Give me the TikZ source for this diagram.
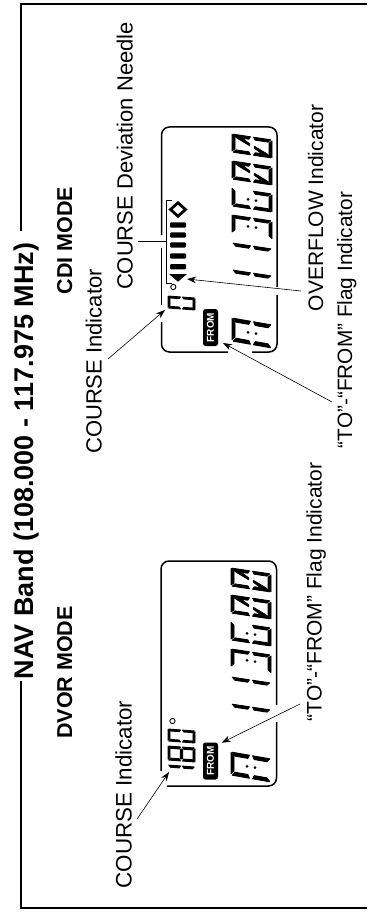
\documentclass[tikz,border=0pt]{standalone}
\usepackage{fontspec}
\setmainfont{Liberation Sans}
\usetikzlibrary{arrows.meta}
\newcommand\SegA{\filldraw (.06,1)--(.98,1)--(.85,.925)--(.2,.925)--cycle;}
\newcommand\SegB{\filldraw (1,.97)--(1,.54)--(.85,.58)--(.85,.9)--cycle;}
\newcommand\SegC{\filldraw (1,.46)--(1,.03)--(.85,.1)--(.85,.42)--cycle;}
\newcommand\SegD{\filldraw (.02,0)--(.94,0)--(.8,.075)--(.15,.075)--cycle;}
\newcommand\SegE{\filldraw (0,.03)--(0,.46)--(.15,.42)--(.15,.1)--cycle;}
\newcommand\SegF{\filldraw (0,.54)--(0,.97)--(.15,.9)--(.15,.58)--cycle;}
\newcommand\SegG{\filldraw (.15,.54)--(.85,.54)--(.85,.46)--(.15,.46)--cycle;}
\newcommand\SegDots{\fill (.5,.6) circle[radius=1.5pt] (.5,.4) circle[radius=1.5pt];}
\newcommand\SegSlash{\filldraw (.82,.88)--(.82,.72)--(.6,.56)--(.5,.56)--cycle;\filldraw (.18,.12)--(.18,.28)--(.4,.44)--(.5,.44)--cycle;}
\newcommand\Dig[6]{\begin{scope}[shift={(#1,#2)},x={(0pt,#3pt)},y={(-#4pt,#5pt)},line width=.9pt,line join=round]#6\end{scope}}
\newcommand\FreqDigits{%
 \Dig{272}{348}{23}{40}{7}{\SegA\SegB\SegC\SegE\SegF\SegDots}
 \Dig{272}{294}{18}{40}{6}{\SegB\SegC}
 \Dig{272}{267}{18}{40}{6}{\SegB\SegC}
 \Dig{272}{239}{18}{40}{6}{\SegA\SegB\SegC\SegD\SegDots}
 \Dig{272}{212}{18}{40}{6}{\SegA\SegC\SegD\SegE\SegF\SegDots}
 \Dig{272}{185}{18}{40}{6}{\SegA\SegB\SegC\SegD\SegE\SegF\SegSlash}
 \Dig{272}{158}{18}{40}{6}{\SegA\SegB\SegC\SegD\SegE\SegF\SegSlash}
}
\tikzset{
 lbl/.style={rotate=90,anchor=base,inner sep=0pt,font=\fontsize{21.5}{24}\selectfont},
 hdr/.style={rotate=90,anchor=base,inner sep=0pt,font=\fontsize{21.5}{24}\selectfont\bfseries},
 ttl/.style={rotate=90,anchor=base,inner sep=0pt,font=\fontsize{27}{30}\selectfont\bfseries},
 badge/.style={rotate=90,fill=black,text=white,rounded corners=2.5pt,minimum width=37pt,minimum height=15pt,inner sep=0pt,font=\fontsize{10}{11}\selectfont\bfseries},
 frameline/.style={line width=1.8pt},
 lcdline/.style={line width=1.5pt,rounded corners=8pt},
 ptr/.style={line width=.6pt,-{Stealth[length=9pt,width=6.5pt]}},
 leader/.style={line width=.6pt},
}
\begin{document}
\begin{tikzpicture}[x=1pt,y=-1pt]
\useasboundingbox (0,0) rectangle (367,912);
% frame
\node[ttl] (title) at (33,461) {NAV Band (108.000 - 117.975 MHz)};
\draw[frameline] (21,231)--(21,4.2)--(367,4.2);
\draw[frameline] (21,681)--(21,908.3)--(367,908.3);
% headers
\node[hdr] (cdi) at (72,240.5) {CDI MODE};
\node[hdr] (dvor) at (72,672.5) {DVOR MODE};
% labels
\node[lbl,font=\fontsize{22}{24}\selectfont] (needle) at (132.5,156) {COURSE Deviation Needle};
\node[lbl,font=\fontsize{22}{24}\selectfont] (ci1) at (101.5,361.5) {COURSE Indicator};
\node[lbl,font=\fontsize{22.4}{24}\selectfont] (ci2) at (131.5,794.5) {COURSE Indicator};
\node[lbl,font=\fontsize{21}{24}\selectfont] (ovf) at (323,208) {OVERFLOW Indicator};
\node[lbl,font=\fontsize{20.8}{24}\selectfont] (tf1) at (352,320) {“TO”-“FROM” Flag Indicator};
\node[lbl,font=\fontsize{21}{24}\selectfont] (tf2) at (321.5,592) {“TO”-“FROM” Flag Indicator};
% CDI LCD outline
\draw[lcdline] (161.5,235)--(161.5,127)--(277,127)--(277,287);
\draw[lcdline] (161.5,248)--(161.5,305);
\draw[lcdline] (161.5,322)--(161.5,352)--(228,352);
\draw[lcdline] (252,352)--(277,352)--(277,295);
% DVOR LCD outline
\draw[lcdline] (161,771)--(161,561)--(276.5,561)--(276.5,705);
\draw[lcdline] (276.5,722)--(276.5,786)--(167,786);
% frequency digits
\FreqDigits
\begin{scope}[shift={(-1,434)}]\FreqDigits\end{scope}
% course digits
\Dig{195}{310}{12}{27}{2}{\SegA\SegB\SegC\SegD\SegE\SegF}
\Dig{195}{743}{12}{27}{2}{\SegA\SegB\SegC\SegD\SegE\SegF}
\Dig{195}{762}{14}{27}{2}{\SegA\SegB\SegC\SegD\SegE\SegF\SegG}
\Dig{195}{781}{14}{27}{2}{\SegB\SegC}
% degree signs
\draw[line width=.9pt] (173.3,287) circle[radius=2.6];
\draw[line width=.9pt] (172.5,721) circle[radius=2.6];
% FROM badges
\node[badge] (from1) at (210.5,327.5) {FROM};
\node[badge] (from2) at (210.5,761) {FROM};
% deviation needle
\draw[line width=2.8pt,miter limit=4] (178,202.8)--(185.5,209.5)--(178,216.2)--(170.5,209.5)--cycle;
\foreach \yy in {225,235,245,256,266.7}{\fill[rounded corners=1pt] (170,\yy-2.7) rectangle (186,\yy+2.7);}
\fill (169,274)--(187,274)--(178,281.7)--cycle;
\draw[leader] (172,200)--(166,200)--(166,283)--(172,283);
\coordinate (brk) at (166,241);
\coordinate (ovft) at (187,279);
\coordinate (ovfs) at (301,291);
\coordinate (ci1s) at (108,359);
\coordinate (ci1t) at (165,310);
\coordinate (tf1s) at (332,402);
\coordinate (tf1t) at (223,343);
\coordinate (ci2s) at (137.3,818.7);
\coordinate (ci2t) at (169,772);
\coordinate (tf2s) at (300,704);
\coordinate (tf2t) at (221.7,742.7);
\coordinate (nds) at (138,241);
\draw[leader] (nds)--(brk);
\draw[ptr] (ovfs)--(ovft);
\draw[ptr] (ci1s)--(ci1t);
\draw[ptr] (tf1s)--(tf1t);
\draw[ptr] (ci2s)--(ci2t);
\draw[ptr] (tf2s)--(tf2t);
\end{tikzpicture}
\end{document}
